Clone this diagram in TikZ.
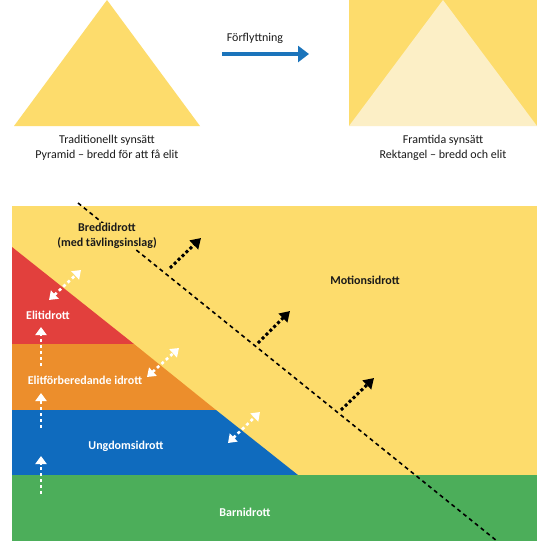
\documentclass[tikz,border=0pt]{standalone}
\usepackage{fontspec}
\setmainfont{Carlito}
\usetikzlibrary{arrows.meta}
\definecolor{ylw}{HTML}{FDDC6C}
\definecolor{lylw}{HTML}{FCEFC6}
\definecolor{rd}{HTML}{E2403D}
\definecolor{org}{HTML}{EC8E2C}
\definecolor{blu}{HTML}{0F6BBE}
\definecolor{grn}{HTML}{4CAE5A}
\definecolor{arrblue}{HTML}{1B74BB}
\definecolor{txt}{HTML}{1A1A1A}
\tikzset{
  caption/.style={font=\fontsize{12}{15}\selectfont, text=txt, align=center, inner sep=0pt},
  lbl/.style={font=\bfseries\fontsize{12}{14.5}\selectfont, text=txt, align=center, inner sep=0pt},
  wlbl/.style={font=\bfseries\fontsize{12}{14.5}\selectfont, text=white, align=center, inner sep=0pt},
  blackarr/.style={line width=3pt, dash pattern=on 3pt off 2.5pt, -{Triangle[length=10pt,width=12pt]}},
  whitearr/.style={white, line width=2.6pt, dash pattern=on 3pt off 3pt, -{Triangle[length=8pt,width=11pt]}},
  whitedbl/.style={white, line width=2.6pt, dash pattern=on 3pt off 3pt, {Triangle[length=8pt,width=11pt]}-{Triangle[length=8pt,width=11pt]}},
  divline/.style={line width=1.6pt, dash pattern=on 4pt off 3.5pt},
}
\begin{document}
\begin{tikzpicture}[x=1pt,y=-1pt]
\useasboundingbox (0,0) rectangle (550,541);
\fill[white] (0,0) rectangle (550,541);
% top left pyramid
\fill[ylw] (14,126) -- (107,0) -- (200,126) -- cycle;
\node[caption] (c1) at (107,148) {Traditionellt synsätt\\Pyramid – bredd för att få elit};
% arrow
\coordinate (as) at (222,54);
\coordinate (ae) at (309,54);
\draw[arrblue, line width=4.5pt, -{Triangle[length=11pt,width=16pt]}] (as) -- (ae);
\node[caption] (fl) at (255,38) {Förflyttning};
% top right rectangle
\fill[ylw] (349,0) rectangle (537,126);
\fill[lylw] (349,126) -- (443,0) -- (537,126) -- cycle;
\node[caption] (c2) at (443,148) {Framtida synsätt\\Rektangel – bredd och elit};
% bottom diagram
\fill[ylw] (12,206) rectangle (537,541);
\fill[rd] (12,247) -- (134,344) -- (12,344) -- cycle;
\fill[org] (12,344) -- (134,344) -- (216,410) -- (12,410) -- cycle;
\fill[blu] (12,410) -- (216,410) -- (298,475) -- (12,475) -- cycle;
\fill[grn] (12,475) rectangle (537,541);
% dashed divider
\coordinate (d1) at (78,203);
\coordinate (d2) at (497,541);
\draw[divline] (d1) -- (d2);
% black arrows
\coordinate (b1s) at (170,268); \coordinate (b1e) at (201,238);
\coordinate (b2s) at (258,343); \coordinate (b2e) at (290,311);
\coordinate (b3s) at (341,410); \coordinate (b3e) at (374,378);
\draw[blackarr] (b1s) -- (b1e);
\draw[blackarr] (b2s) -- (b2e);
\draw[blackarr] (b3s) -- (b3e);
% white double arrows
\coordinate (w1s) at (49,300); \coordinate (w1e) at (81,270);
\coordinate (w2s) at (147,377); \coordinate (w2e) at (179,348);
\coordinate (w3s) at (228,443); \coordinate (w3e) at (260,412);
\draw[whitedbl] (w1s) -- (w1e);
\draw[whitedbl] (w2s) -- (w2e);
\draw[whitedbl] (w3s) -- (w3e);
% white vertical arrows
\coordinate (v1s) at (41,366); \coordinate (v1e) at (41,327);
\coordinate (v2s) at (41,428); \coordinate (v2e) at (41,393);
\coordinate (v3s) at (41,494); \coordinate (v3e) at (41,456);
\draw[whitearr] (v1s) -- (v1e);
\draw[whitearr] (v2s) -- (v2e);
\draw[whitearr] (v3s) -- (v3e);
% labels
\node[lbl, fill=ylw, inner sep=1pt] (bredd) at (107,236) {Breddidrott\\(med tävlingsinslag)};
\node[lbl] (motion) at (365,280) {Motionsidrott};
\node[wlbl] (elit) at (48,315) {Elitidrott};
\node[wlbl] (elitf) at (85,380) {Elitförberedande idrott};
\node[wlbl] (ungd) at (126,446) {Ungdomsidrott};
\node[wlbl] (barn) at (245,512) {Barnidrott};
\end{tikzpicture}
\end{document}
